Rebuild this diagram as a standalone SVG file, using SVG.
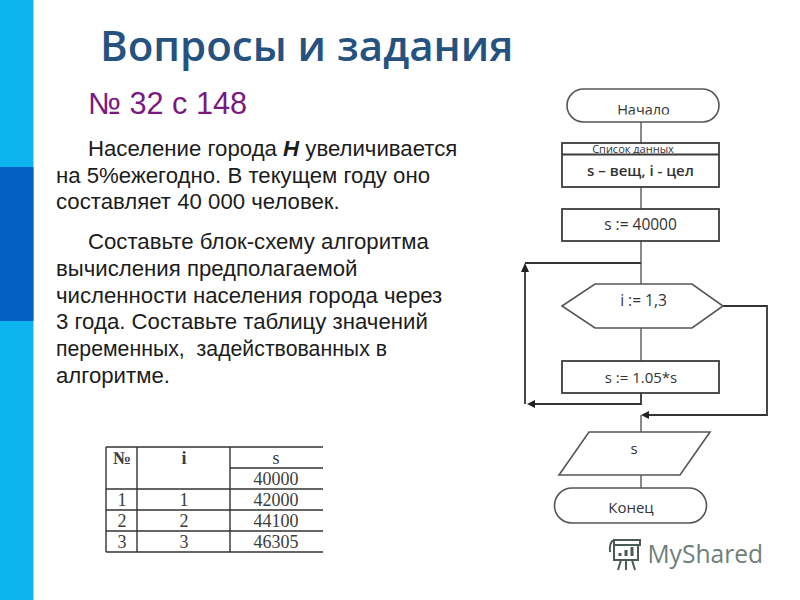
<svg xmlns="http://www.w3.org/2000/svg" width="800" height="600" viewBox="0 0 800 600">
<style>
.t{font-family:"Liberation Sans",Arial,sans-serif;font-size:22.200px;fill:#1c1c1c}
.f{font-family:"Open Sans","Noto Sans",sans-serif;fill:#333}
.s{fill:#fff;stroke:#555;stroke-width:1.6}
.d{fill:#fff;stroke:#3c3c3c;stroke-width:1.8}
.c{fill:none;stroke:#8a8a8a;stroke-width:2}
.k{fill:none;stroke:#333;stroke-width:1.8}
.g{stroke:#333;stroke-width:1.4}
.n{font-family:"Liberation Serif","Times New Roman",serif;font-size:18px;fill:#3c3c3c;text-anchor:middle}
.m{text-anchor:middle}
</style>
<defs>
<marker id="a" markerWidth="8" markerHeight="8" refX="1" refY="4" orient="auto" markerUnits="userSpaceOnUse"><path d="M0 0L8 4L0 8Z" fill="#222"/></marker>
<clipPath id="clip"><rect x="567" y="89" width="152" height="25.500"/></clipPath>
</defs>
<rect width="800" height="600" fill="#fff"/>
<rect width="33.500" height="600" fill="#0cb5ee"/>
<rect y="167" width="33.500" height="154" fill="#0560c4"/>
<text x="100" y="61" font-family="'Open Sans','Noto Sans',sans-serif" font-size="42" font-weight="600" fill="#26527f">Вопросы и задания</text>
<text x="88" y="114" font-family="'Liberation Sans',Arial,sans-serif" font-size="30.700" fill="#7a1a80">№ 32 с 148</text>
<g id="task">
<text class="t" x="88" y="156">Население города <tspan font-weight="bold" font-style="italic">Н</tspan> увеличивается</text>
<text class="t" x="56" y="183">на 5%ежегодно. В текущем году оно</text>
<text class="t" x="56" y="209">составляет 40 000 человек.</text>
<text class="t" x="88" y="249">Составьте блок-схему алгоритма</text>
<text class="t" x="56" y="276">вычисления предполагаемой</text>
<text class="t" x="56" y="303">численности населения города через</text>
<text class="t" x="56" y="329">3 года. Составьте таблицу значений</text>
<text class="t" x="56" y="356" textLength="331" lengthAdjust="spacingAndGlyphs">переменных,&#160; задействованных в</text>
<text class="t" x="56" y="383">алгоритме.</text>
</g>
<g id="table">
<path class="g" fill="none" d="M106 447H323M230 468H323M106 489H323M106 510H323M106 531H323M106 552H323M106 447V552M137 447V552M230 447V552"/>
<text class="n" x="122" y="464" font-weight="bold">№</text>
<text class="n" x="184" y="464" font-weight="bold">i</text>
<text class="n" x="276" y="464">s</text>
<text class="n" x="276" y="485">40000</text>
<text class="n" x="122" y="506">1</text><text class="n" x="184" y="506">1</text><text class="n" x="276" y="506">42000</text>
<text class="n" x="122" y="527">2</text><text class="n" x="184" y="527">2</text><text class="n" x="276" y="527">44100</text>
<text class="n" x="122" y="548">3</text><text class="n" x="184" y="548">3</text><text class="n" x="276" y="548">46305</text>
</g>
<g id="connectors">
<path class="c" d="M641 122V143M641 187V209M641 241V284M641 328V361M641 475V488"/>
<path class="k" d="M641 393V404H534" marker-end="url(#a)"/>
<path class="k" d="M525 404V271"/>
<path d="M525 263L529 272H521Z" fill="#222"/>
<path class="k" d="M525 263H641"/>
<path class="k" d="M723 306H767V415H648"/>
<path d="M641 415L649 411V419Z" fill="#222"/>
<path class="c" d="M641 415V432"/>
</g>
<g id="start"><rect class="s" x="567" y="89" width="152" height="33" rx="16.500"/><text class="f m" x="643.500" y="115" font-size="14.500" clip-path="url(#clip)">Начало</text></g>
<g id="data"><rect class="d" x="562" y="143" width="157" height="44"/><path class="d" d="M562 154.500H719"/><text class="f m" x="633" y="153" font-size="11">Список данных</text><text class="f m" x="640.500" y="176" font-size="15" font-weight="600">s – вещ, i - цел</text></g>
<g id="init"><rect class="d" x="562" y="209" width="157" height="32"/><text class="f m" x="640.500" y="230" font-size="15.500">s := 40000</text></g>
<g id="loop"><path class="s" d="M562 306L595 284H692L723 306L692 328H595Z"/><text class="f m" x="643.500" y="306" font-size="15.500">i := 1,3</text></g>
<g id="calc"><rect class="d" x="562" y="361" width="157" height="32"/><text class="f m" x="641" y="383" font-size="15">s := 1.05*s</text></g>
<g id="output"><path class="s" d="M589 432H710L680 475H559Z"/><text class="f m" x="634" y="454" font-size="15">s</text></g>
<g id="end"><rect class="s" x="554.500" y="488" width="152" height="35" rx="17.500"/><text class="f m" x="631" y="513" font-size="15">Конец</text></g>
<g id="watermark" fill="none" stroke="#4a5a55" stroke-width="2">
<path d="M614 540H640V545H614ZM614 545V560H638V545M621 560L618 570M626 560V570M632 560L635 570M614 540Q609 542 610 552"/>
<path d="M620 556V553M626 556V550M632 556V547" stroke-width="3"/>
<text x="647.500" y="563" font-family="'Open Sans','Noto Sans',sans-serif" font-size="24.600" fill="#6f7f78" stroke="none">MyShared</text>
</g>
</svg>
